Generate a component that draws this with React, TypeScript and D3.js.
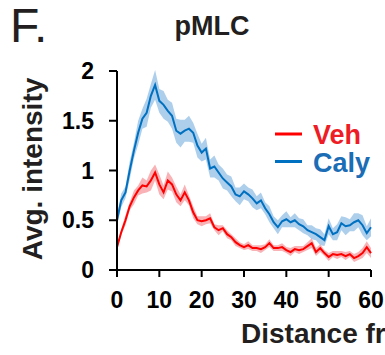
import * as d3 from "d3";

// distance (µm), one sample per µm
const distance = d3.range(0, 61);

// Caly (blue) mean and SEM
const calyMean = [
  0.5, 0.7, 0.78, 1.0, 1.2, 1.38, 1.52, 1.58, 1.75, 1.86,
  1.7, 1.66, 1.6, 1.55, 1.4, 1.37, 1.4, 1.42, 1.38, 1.25,
  1.18, 1.22, 1.02, 1.04, 0.98, 0.92, 0.88, 0.84, 0.76, 0.74,
  0.79, 0.76, 0.72, 0.67, 0.7, 0.62, 0.56, 0.48, 0.43, 0.49,
  0.51, 0.48, 0.5, 0.46, 0.44, 0.4, 0.38, 0.36, 0.33, 0.3,
  0.44, 0.36, 0.38, 0.47, 0.44, 0.45, 0.48, 0.5, 0.45, 0.37,
  0.43,
];
const calySem = [
  0.05, 0.07, 0.06, 0.09, 0.08, 0.12, 0.1, 0.14, 0.12, 0.15,
  0.12, 0.14, 0.11, 0.13, 0.12, 0.14, 0.11, 0.13, 0.1, 0.12,
  0.09, 0.11, 0.09, 0.11, 0.08, 0.1, 0.08, 0.1, 0.07, 0.09,
  0.08, 0.07, 0.09, 0.07, 0.08, 0.06, 0.08, 0.06, 0.07, 0.06,
  0.08, 0.05, 0.07, 0.06, 0.07, 0.05, 0.07, 0.06, 0.08, 0.06,
  0.08, 0.06, 0.08, 0.07, 0.09, 0.06, 0.09, 0.07, 0.1, 0.07,
  0.09,
];

// Veh (red) mean and SEM
const vehMean = [
  0.23, 0.38, 0.5, 0.64, 0.73, 0.8, 0.85, 0.84, 0.9, 0.98,
  0.86, 0.78, 0.9, 0.86, 0.76, 0.7, 0.78, 0.7, 0.58, 0.5,
  0.49, 0.5, 0.52, 0.43, 0.4, 0.42, 0.36, 0.33, 0.28, 0.25,
  0.23, 0.25, 0.22, 0.22, 0.21, 0.23, 0.27, 0.22, 0.22, 0.23,
  0.2, 0.18, 0.21, 0.2, 0.21, 0.24, 0.27, 0.18, 0.22, 0.17,
  0.13, 0.16, 0.15, 0.16, 0.14, 0.16, 0.12, 0.14, 0.17, 0.23,
  0.17,
];
const vehSem = [
  0.02, 0.03, 0.05, 0.04, 0.07, 0.05, 0.08, 0.06, 0.1, 0.08,
  0.1, 0.07, 0.09, 0.07, 0.08, 0.06, 0.08, 0.05, 0.06, 0.04,
  0.05, 0.04, 0.05, 0.03, 0.05, 0.03, 0.04, 0.03, 0.04, 0.03,
  0.03, 0.04, 0.03, 0.03, 0.04, 0.03, 0.04, 0.03, 0.03, 0.04,
  0.03, 0.04, 0.03, 0.04, 0.03, 0.04, 0.05, 0.04, 0.04, 0.03,
  0.04, 0.03, 0.04, 0.03, 0.04, 0.03, 0.04, 0.04, 0.05, 0.06,
  0.05,
];

const xTicks = [0, 10, 20, 30, 40, 50, 60];
const yTicks = [0, 0.5, 1, 1.5, 2];
const yTickLabels = ["0", "0.5", "1", "1.5", "2"];

const legend = [
  { label: "Veh", line: "#ff0000", text: "#ee1c25" },
  { label: "Caly", line: "#0070c0", text: "#1b6db5" },
];

const font = "'Liberation Sans', Arial, sans-serif";

export default function App() {
  const x = d3.scaleLinear().domain([0, 60]).range([117, 371]);
  const y = d3.scaleLinear().domain([0, 2]).range([270, 71]);

  const band = (mean: number[], sem: number[]) =>
    d3
      .area<number>()
      .x((d) => x(d))
      .y0((_, i) => y(mean[i] - sem[i]))
      .y1((_, i) => y(mean[i] + sem[i]))(distance) ?? "";

  const line = (mean: number[]) =>
    d3
      .line<number>()
      .x((d) => x(d))
      .y((_, i) => y(mean[i]))(distance) ?? "";

  return (
    <svg
      width={385}
      height={355}
      style={{ position: "absolute", left: 0, top: 0, background: "#fff" }}
      fontFamily={font}
    >
      <text x={10} y={42} fontSize={48} fill="#231f20">
        F.
      </text>
      <text x={212} y={35} fontSize={27} fontWeight="bold" textAnchor="middle" fill="#231f20">
        pMLC
      </text>

      {/* bands */}
      <path d={band(calyMean, calySem)} fill="#9fc7e9" opacity={0.85} />
      <path d={band(vehMean, vehSem)} fill="#f8a5a8" opacity={0.85} />
      <path d={line(calyMean)} fill="none" stroke="#0070c0" strokeWidth={2} />
      <path d={line(vehMean)} fill="none" stroke="#ff0000" strokeWidth={2} />

      {/* y axis */}
      <line x1={117} x2={117} y1={y(2)} y2={y(0)} stroke="#000" strokeWidth={2} />
      {yTicks.map((t, i) => (
        <g key={t}>
          <line x1={109} x2={117} y1={y(t)} y2={y(t)} stroke="#000" strokeWidth={2} />
          <text
            x={94}
            y={y(t) + 8}
            fontSize={23}
            fontWeight="bold"
            textAnchor="end"
            fill="#000"
          >
            {yTickLabels[i]}
          </text>
        </g>
      ))}

      {/* x axis */}
      <line x1={117} x2={x(60)} y1={270} y2={270} stroke="#000" strokeWidth={2} />
      {xTicks.map((t) => (
        <g key={t}>
          <line x1={x(t)} x2={x(t)} y1={270} y2={277} stroke="#000" strokeWidth={2} />
          <text x={x(t)} y={308} fontSize={23} fontWeight="bold" textAnchor="middle" fill="#000">
            {t}
          </text>
        </g>
      ))}

      <text x={241} y={343} fontSize={28} fontWeight="bold" fill="#231f20">
        Distance from edge (μm)
      </text>
      <text
        transform="translate(42,169) rotate(-90)"
        fontSize={28}
        fontWeight="bold"
        textAnchor="middle"
        fill="#231f20"
      >
        Avg. intensity
      </text>

      {/* legend */}
      {legend.map((l, i) => (
        <g key={l.label}>
          <line
            x1={275}
            x2={302}
            y1={134 + i * 27.5}
            y2={134 + i * 27.5}
            stroke={l.line}
            strokeWidth={3}
          />
          <text x={313} y={144 + i * 27.5} fontSize={27} fontWeight="bold" fill={l.text}>
            {l.label}
          </text>
        </g>
      ))}
    </svg>
  );
}
